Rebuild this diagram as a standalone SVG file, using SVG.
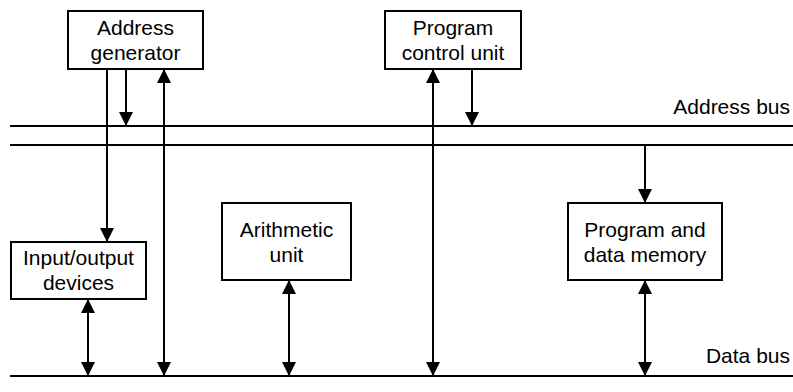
<svg xmlns="http://www.w3.org/2000/svg" width="793" height="392" viewBox="0 0 793 392">
<style>
.box{fill:#fff;stroke:#000;stroke-width:2}
.bus{stroke:#000;stroke-width:2;fill:none}
.ln{stroke:#000;stroke-width:2;fill:none}
text{font-family:"Liberation Sans",Arial,sans-serif;font-size:21px;fill:#000}
.c{text-anchor:middle}
.r{text-anchor:end}
</style>
<defs>
<marker id="ah" viewBox="0 0 14 14" refX="14" refY="7" markerWidth="14" markerHeight="14" markerUnits="userSpaceOnUse" orient="auto-start-reverse">
<path d="M0,0 L14,7 L0,14 Z" fill="#000"/>
</marker>
</defs>
<rect width="793" height="392" fill="#fff"/>
<g id="buses">
<line class="bus" x1="10" y1="126" x2="793" y2="126"/>
<line class="bus" x1="10" y1="145" x2="793" y2="145"/>
<line class="bus" x1="10" y1="376" x2="793" y2="376"/>
<text class="r" x="790" y="114">Address bus</text>
<text class="r" x="790" y="363">Data bus</text>
</g>
<g id="connectors">
<line class="ln" x1="107" y1="69" x2="107" y2="242" marker-end="url(#ah)"/>
<line class="ln" x1="126" y1="69" x2="126" y2="126" marker-end="url(#ah)"/>
<line class="ln" x1="164" y1="69" x2="164" y2="376" marker-start="url(#ah)" marker-end="url(#ah)"/>
<line class="ln" x1="433" y1="69" x2="433" y2="376" marker-start="url(#ah)" marker-end="url(#ah)"/>
<line class="ln" x1="472" y1="69" x2="472" y2="126" marker-end="url(#ah)"/>
<line class="ln" x1="645" y1="145" x2="645" y2="203" marker-end="url(#ah)"/>
<line class="ln" x1="88" y1="299" x2="88" y2="376" marker-start="url(#ah)" marker-end="url(#ah)"/>
<line class="ln" x1="289" y1="280" x2="289" y2="376" marker-start="url(#ah)" marker-end="url(#ah)"/>
<line class="ln" x1="645" y1="280" x2="645" y2="376" marker-start="url(#ah)" marker-end="url(#ah)"/>
</g>
<g id="address-generator">
<rect class="box" x="68" y="11" width="135" height="58"/>
<text class="c" x="135.5" y="35">Address</text>
<text class="c" x="135.5" y="60">generator</text>
</g>
<g id="program-control-unit">
<rect class="box" x="385" y="11" width="136" height="58"/>
<text class="c" x="453" y="35">Program</text>
<text class="c" x="453" y="60">control unit</text>
</g>
<g id="io-devices">
<rect class="box" x="11" y="242" width="135" height="57"/>
<text class="c" x="78.5" y="265">Input/output</text>
<text class="c" x="78.5" y="290">devices</text>
</g>
<g id="arithmetic-unit">
<rect class="box" x="222" y="203" width="129" height="77"/>
<text class="c" x="286.5" y="237">Arithmetic</text>
<text class="c" x="286.5" y="262">unit</text>
</g>
<g id="program-data-memory">
<rect class="box" x="568" y="203" width="154" height="77"/>
<text class="c" x="645" y="237">Program and</text>
<text class="c" x="645" y="262">data memory</text>
</g>
</svg>
